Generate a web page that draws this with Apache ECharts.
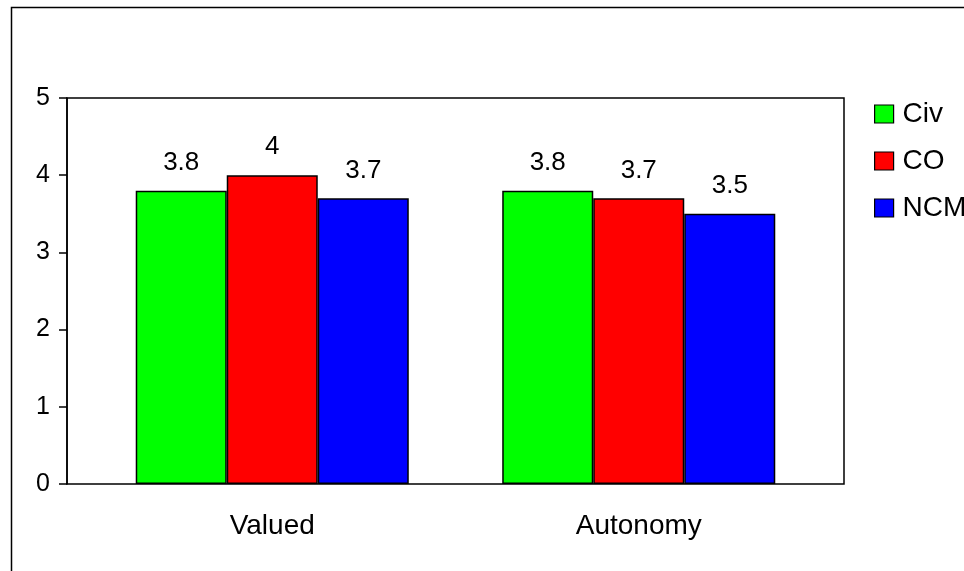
<!DOCTYPE html>
<html>
<head>
<meta charset="utf-8">
<script src="https://cdn.jsdelivr.net/npm/echarts@6/dist/echarts.min.js"></script>
<style>
  html, body { margin: 0; padding: 0; background: #fff; }
  #chart { width: 964px; height: 571px; }
</style>
</head>
<body>
<div id="chart"></div>
<script>
  // 数据
  const categories = ['Valued', 'Autonomy']
  const seriesNames = ['Civ', 'CO', 'NCM']
  const civValues = [3.8, 3.8]
  const coValues = [4, 3.7]
  const ncmValues = [3.7, 3.5]
  const colors = ['#00ff00', '#ff0000', '#0000ff']

  const font = 'Arial, "Liberation Sans", sans-serif'
  const myChart = echarts.init(document.getElementById('chart'))

  function makeSeries(name, data, color) {
    return {
      name: name,
      type: 'bar',
      xAxisIndex: 0,
      yAxisIndex: 0,
      data: data,
      barGap: '0%',
      barCategoryGap: '25.5%',
      itemStyle: { color: color, borderColor: '#000', borderWidth: 1.5 },
      label: {
        show: true,
        position: 'top',
        distance: 15,
        color: '#000',
        fontFamily: font,
        fontSize: 26
      }
    }
  }

  const option = {
    backgroundColor: '#fff',
    animation: false,
    graphic: [
      { // 外框
        type: 'rect',
        left: 9, top: 5,
        shape: { width: 1000, height: 1000 },
        style: { fill: 'none', stroke: '#000', lineWidth: 1.5 },
        silent: true
      }
    ],
    legend: {
      orient: 'vertical',
      left: 869,
      top: 95,
      icon: 'rect',
      itemWidth: 19,
      itemHeight: 18,
      itemGap: 19,
      itemStyle: { borderColor: '#000', borderWidth: 1.2 },
      textStyle: { fontFamily: font, fontSize: 28, color: '#000', padding: [0, 0, 0, 4] },
      data: seriesNames
    },
    grid: [
      { left: 89, right: 142, top: 98, bottom: 87 },   // 柱子
      { left: 67, right: 120, top: 98, bottom: 87, show: true, borderColor: '#000', borderWidth: 1.5, backgroundColor: 'transparent' } // 绘图区边框
    ],
    xAxis: [
      {
        type: 'category',
        gridIndex: 0,
        data: categories,
        axisLine: { show: false },
        axisTick: { show: false },
        axisLabel: { margin: 28, color: '#000', fontFamily: font, fontSize: 28 }
      },
      { type: 'value', gridIndex: 1, show: false }
    ],
    yAxis: [
      { type: 'value', gridIndex: 0, min: 0, max: 5, interval: 1, show: false },
      {
        type: 'value',
        gridIndex: 1,
        min: 0,
        max: 5,
        interval: 1,
        axisLine: { show: true, lineStyle: { color: '#000', width: 1.5 } },
        axisTick: { show: true, length: 8, lineStyle: { color: '#000', width: 1.5 } },
        splitLine: { show: false },
        axisLabel: { margin: 17, color: '#000', fontFamily: font, fontSize: 25 }
      }
    ],
    series: [
      makeSeries(seriesNames[0], civValues, colors[0]),
      makeSeries(seriesNames[1], coValues, colors[1]),
      makeSeries(seriesNames[2], ncmValues, colors[2])
    ]
  }

  myChart.setOption(option)
</script>
</body>
</html>
